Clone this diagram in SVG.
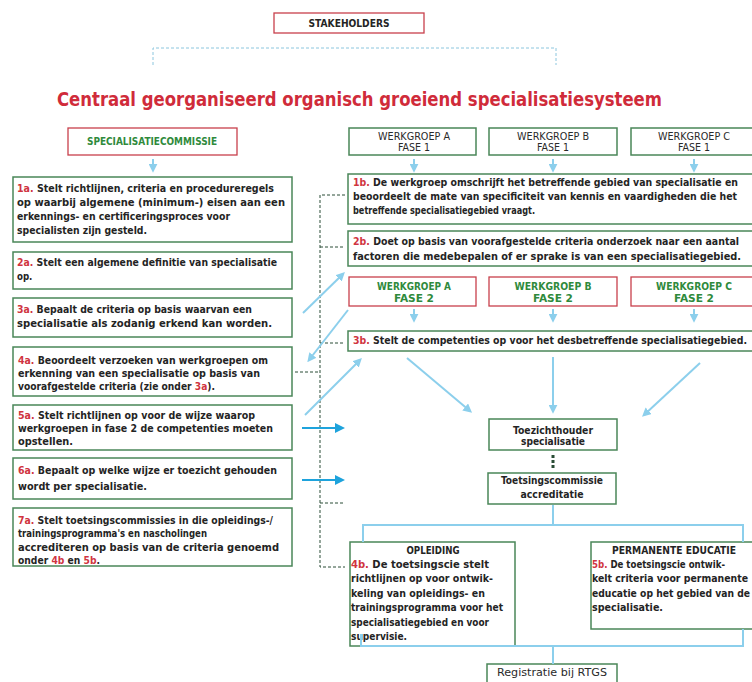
<svg xmlns="http://www.w3.org/2000/svg" width="752" height="682" viewBox="0 0 752 682">
<defs>
<style>
.bg{fill:#fff;stroke:#4a8658;stroke-width:1.5}
.br{fill:#fff;stroke:#c8404c;stroke-width:1.3}
.t{font-family:"DejaVu Sans Condensed","DejaVu Sans",sans-serif;font-weight:bold;font-size:9.6px;fill:#242424}
.n{font-family:"DejaVu Sans Condensed","DejaVu Sans",sans-serif;font-size:10px;fill:#2a2a2a}
.gt{fill:#2f8a3c}
.r{fill:#d0343f}
.title{font-family:"DejaVu Sans Condensed","DejaVu Sans",sans-serif;font-weight:bold;font-size:19px;fill:#d02b3a}
.lb{fill:none;stroke:#8ccfec;stroke-width:2}
.db{fill:none;stroke:#1ea3dc;stroke-width:2.2}
.dash{fill:none;stroke:#2a4d36;stroke-width:1;stroke-dasharray:3,2}
.brk{fill:none;stroke:#8cc6de;stroke-width:1;stroke-dasharray:3,2}
</style>
<marker id="la" markerUnits="userSpaceOnUse" viewBox="0 0 10 10" markerWidth="9" markerHeight="9" refX="7" refY="5" orient="auto"><path d="M0,0 L10,5 L0,10 z" fill="#8ccfec"/></marker>
<marker id="da" markerUnits="userSpaceOnUse" viewBox="0 0 10 10" markerWidth="10" markerHeight="11" refX="7" refY="5" orient="auto"><path d="M0,0 L10,5 L0,10 z" fill="#1ea3dc"/></marker>
</defs>
<rect width="752" height="682" fill="#fff"/>

<g id="stakeholders"><rect class="br" x="274" y="13" width="150" height="20"/><text class="t" x="349" y="27" text-anchor="middle" textLength="81" lengthAdjust="spacingAndGlyphs">STAKEHOLDERS</text></g>

<text class="title" x="57" y="106" textLength="605" lengthAdjust="spacingAndGlyphs">Centraal georganiseerd organisch groeiend specialisatiesysteem</text>

<g id="specialisatiecommissie"><rect class="br" x="68" y="128" width="169" height="27"/><text class="t gt" x="152" y="145" text-anchor="middle" textLength="130" lengthAdjust="spacingAndGlyphs">SPECIALISATIECOMMISSIE</text></g>

<g id="wg-a-f1"><rect class="bg" x="349" y="128" width="127" height="27"/><text class="n" x="414" y="139.5" text-anchor="middle" textLength="72" lengthAdjust="spacingAndGlyphs">WERKGROEP A</text><text class="n" x="414" y="151" text-anchor="middle" textLength="32" lengthAdjust="spacingAndGlyphs">FASE 1</text></g>
<g id="wg-b-f1"><rect class="bg" x="489" y="128" width="128" height="27"/><text class="n" x="553" y="139.5" text-anchor="middle" textLength="72" lengthAdjust="spacingAndGlyphs">WERKGROEP B</text><text class="n" x="553" y="151" text-anchor="middle" textLength="32" lengthAdjust="spacingAndGlyphs">FASE 1</text></g>
<g id="wg-c-f1"><rect class="bg" x="631" y="128" width="127" height="27"/><text class="n" x="694" y="139.5" text-anchor="middle" textLength="72" lengthAdjust="spacingAndGlyphs">WERKGROEP C</text><text class="n" x="694" y="151" text-anchor="middle" textLength="32" lengthAdjust="spacingAndGlyphs">FASE 1</text></g>

<g id="n1a"><rect class="bg" x="13" y="177" width="279" height="65"/>
<text class="t" x="17" y="192" textLength="257" lengthAdjust="spacingAndGlyphs"><tspan class="r">1a.</tspan> Stelt richtlijnen, criteria en procedureregels</text>
<text class="t" x="17" y="206" textLength="268" lengthAdjust="spacingAndGlyphs">op waarbij algemene (minimum-) eisen aan een</text>
<text class="t" x="17" y="220" textLength="213" lengthAdjust="spacingAndGlyphs">erkennings- en certificeringsproces voor</text>
<text class="t" x="17" y="234" textLength="130" lengthAdjust="spacingAndGlyphs">specialisten zijn gesteld.</text></g>

<g id="n2a"><rect class="bg" x="13" y="252" width="279" height="37"/>
<text class="t" x="17" y="266" textLength="260" lengthAdjust="spacingAndGlyphs"><tspan class="r">2a.</tspan> Stelt een algemene definitie van specialisatie</text>
<text class="t" x="17" y="280">op.</text></g>

<g id="n3a"><rect class="bg" x="13" y="298" width="279" height="39"/>
<text class="t" x="17" y="313" textLength="235" lengthAdjust="spacingAndGlyphs"><tspan class="r">3a.</tspan> Bepaalt de criteria op basis waarvan een</text>
<text class="t" x="17" y="327" textLength="255" lengthAdjust="spacingAndGlyphs">specialisatie als zodanig erkend kan worden.</text></g>

<g id="n4a"><rect class="bg" x="13" y="347" width="279" height="49"/>
<text class="t" x="18" y="364" textLength="250" lengthAdjust="spacingAndGlyphs"><tspan class="r">4a.</tspan> Beoordeelt verzoeken van werkgroepen om</text>
<text class="t" x="18" y="377" textLength="242" lengthAdjust="spacingAndGlyphs">erkenning van een specialisatie op basis van</text>
<text class="t" x="18" y="390" textLength="197" lengthAdjust="spacingAndGlyphs">voorafgestelde criteria (zie onder <tspan class="r">3a</tspan>).</text></g>

<g id="n5a"><rect class="bg" x="13" y="405" width="279" height="45"/>
<text class="t" x="18" y="419" textLength="237" lengthAdjust="spacingAndGlyphs"><tspan class="r">5a.</tspan> Stelt richtlijnen op voor de wijze waarop</text>
<text class="t" x="18" y="432" textLength="255" lengthAdjust="spacingAndGlyphs">werkgroepen in fase 2 de competenties moeten</text>
<text class="t" x="18" y="445" textLength="55" lengthAdjust="spacingAndGlyphs">opstellen.</text></g>

<g id="n6a"><rect class="bg" x="13" y="458" width="279" height="41"/>
<text class="t" x="18" y="474" textLength="259" lengthAdjust="spacingAndGlyphs"><tspan class="r">6a.</tspan> Bepaalt op welke wijze er toezicht gehouden</text>
<text class="t" x="18" y="490" textLength="129" lengthAdjust="spacingAndGlyphs">wordt per specialisatie.</text></g>

<g id="n7a"><rect class="bg" x="13" y="508" width="279" height="58"/>
<text class="t" x="18" y="524" textLength="255" lengthAdjust="spacingAndGlyphs"><tspan class="r">7a.</tspan> Stelt toetsingscommissies in die opleidings-/</text>
<text class="t" x="18" y="537" textLength="189" lengthAdjust="spacingAndGlyphs">trainingsprogramma's en nascholingen</text>
<text class="t" x="18" y="551" textLength="261" lengthAdjust="spacingAndGlyphs">accrediteren op basis van de criteria genoemd</text>
<text class="t" x="18" y="564" textLength="82" lengthAdjust="spacingAndGlyphs">onder <tspan class="r">4b</tspan> en <tspan class="r">5b</tspan>.</text></g>

<g id="n1b"><rect class="bg" x="348" y="174" width="410" height="50"/>
<text class="t" x="353" y="186" textLength="385" lengthAdjust="spacingAndGlyphs"><tspan class="r">1b.</tspan> De werkgroep omschrijft het betreffende gebied van specialisatie en</text>
<text class="t" x="353" y="200" textLength="384" lengthAdjust="spacingAndGlyphs">beoordeelt de mate van specificiteit van kennis en vaardigheden die het</text>
<text class="t" x="353" y="214" textLength="182" lengthAdjust="spacingAndGlyphs">betreffende specialisatiegebied vraagt.</text></g>

<g id="n2b"><rect class="bg" x="348" y="231" width="410" height="35"/>
<text class="t" x="353" y="245" textLength="386" lengthAdjust="spacingAndGlyphs"><tspan class="r">2b.</tspan> Doet op basis van voorafgestelde criteria onderzoek naar een aantal</text>
<text class="t" x="353" y="260" textLength="388" lengthAdjust="spacingAndGlyphs">factoren die medebepalen of er sprake is van een specialisatiegebied.</text></g>

<g id="wg-a-f2"><rect class="br" x="349" y="277" width="127" height="29"/><text class="t gt" x="414" y="290" text-anchor="middle" textLength="74" lengthAdjust="spacingAndGlyphs">WERKGROEP A</text><text class="t gt" x="414" y="302" text-anchor="middle" textLength="40" lengthAdjust="spacingAndGlyphs">FASE 2</text></g>
<g id="wg-b-f2"><rect class="br" x="489" y="277" width="128" height="29"/><text class="t gt" x="553" y="290" text-anchor="middle" textLength="77" lengthAdjust="spacingAndGlyphs">WERKGROEP B</text><text class="t gt" x="553" y="302" text-anchor="middle" textLength="40" lengthAdjust="spacingAndGlyphs">FASE 2</text></g>
<g id="wg-c-f2"><rect class="br" x="631" y="277" width="127" height="29"/><text class="t gt" x="694" y="290" text-anchor="middle" textLength="76" lengthAdjust="spacingAndGlyphs">WERKGROEP C</text><text class="t gt" x="694" y="302" text-anchor="middle" textLength="40" lengthAdjust="spacingAndGlyphs">FASE 2</text></g>

<g id="n3b"><rect class="bg" x="348" y="331" width="410" height="20"/>
<text class="t" x="353" y="344" textLength="394" lengthAdjust="spacingAndGlyphs"><tspan class="r">3b.</tspan> Stelt de competenties op voor het desbetreffende specialisatiegebied.</text></g>

<g id="toezichthouder"><rect class="bg" x="489" y="419" width="128" height="31"/>
<text class="t" x="553" y="434" text-anchor="middle" textLength="80" lengthAdjust="spacingAndGlyphs">Toezichthouder</text>
<text class="t" x="553" y="445" text-anchor="middle" textLength="64" lengthAdjust="spacingAndGlyphs">specialisatie</text></g>

<g id="toetsingscommissie"><rect class="bg" x="488" y="473" width="128" height="31"/>
<text class="t" x="552" y="484" text-anchor="middle" textLength="102" lengthAdjust="spacingAndGlyphs">Toetsingscommissie</text>
<text class="t" x="552" y="498" text-anchor="middle" textLength="63" lengthAdjust="spacingAndGlyphs">accreditatie</text></g>

<g id="opleiding"><rect class="bg" x="350" y="542" width="165" height="104"/>
<text class="t" x="433" y="554" text-anchor="middle" textLength="53" lengthAdjust="spacingAndGlyphs">OPLEIDING</text>
<text class="t" x="351" y="568" textLength="138" lengthAdjust="spacingAndGlyphs"><tspan class="r">4b.</tspan> De toetsingscie stelt</text>
<text class="t" x="351" y="582" textLength="142" lengthAdjust="spacingAndGlyphs">richtlijnen op voor ontwik-</text>
<text class="t" x="351" y="597" textLength="134" lengthAdjust="spacingAndGlyphs">keling van opleidings- en</text>
<text class="t" x="351" y="611" textLength="152" lengthAdjust="spacingAndGlyphs">trainingsprogramma voor het</text>
<text class="t" x="351" y="626" textLength="138" lengthAdjust="spacingAndGlyphs">specialisatiegebied en voor</text>
<text class="t" x="351" y="640" textLength="56" lengthAdjust="spacingAndGlyphs">supervisie.</text></g>

<g id="permanente-educatie"><rect class="bg" x="591" y="542" width="170" height="87"/>
<text class="t" x="674" y="554" text-anchor="middle" textLength="124" lengthAdjust="spacingAndGlyphs">PERMANENTE EDUCATIE</text>
<text class="t" x="592" y="568" textLength="133" lengthAdjust="spacingAndGlyphs"><tspan class="r">5b.</tspan> De toetsingscie ontwik-</text>
<text class="t" x="592" y="582" textLength="156" lengthAdjust="spacingAndGlyphs">kelt criteria voor permanente</text>
<text class="t" x="592" y="597" textLength="158" lengthAdjust="spacingAndGlyphs">educatie op het gebied van de</text>
<text class="t" x="592" y="611" textLength="71" lengthAdjust="spacingAndGlyphs">specialisatie.</text></g>

<g id="rtgs"><rect class="bg" x="487" y="664" width="130" height="24"/>
<text class="n" x="552" y="676" text-anchor="middle" textLength="110" lengthAdjust="spacingAndGlyphs">Registratie bij RTGS</text></g>

<g id="connectors">
<path class="brk" d="M153,65 V48 H556 V65"/>
<line class="lb" x1="153" y1="159" x2="153" y2="170" marker-end="url(#la)"/>
<line class="lb" x1="414" y1="159" x2="414" y2="170" marker-end="url(#la)"/>
<line class="lb" x1="553" y1="159" x2="553" y2="170" marker-end="url(#la)"/>
<line class="lb" x1="694" y1="159" x2="694" y2="170" marker-end="url(#la)"/>
<line class="lb" x1="414" y1="309" x2="414" y2="320" marker-end="url(#la)"/>
<line class="lb" x1="553" y1="309" x2="553" y2="320" marker-end="url(#la)"/>
<line class="lb" x1="694" y1="309" x2="694" y2="320" marker-end="url(#la)"/>
<path class="dash" d="M345,195 H320 V567 H345 M320,247 H345 M320,343 H345 M295,372 H320 M320,503 H345"/>
<line class="lb" x1="303" y1="313" x2="343" y2="274" marker-end="url(#la)"/>
<line class="lb" x1="348" y1="310" x2="309" y2="360" marker-end="url(#la)"/>
<line class="lb" x1="305" y1="415" x2="360" y2="360" marker-end="url(#la)"/>
<line class="db" x1="302" y1="428" x2="342" y2="428" marker-end="url(#da)"/>
<line class="db" x1="302" y1="480" x2="342" y2="480" marker-end="url(#da)"/>
<line class="lb" x1="407" y1="358" x2="470" y2="411" marker-end="url(#la)"/>
<line class="lb" x1="553" y1="357" x2="553" y2="411" marker-end="url(#la)"/>
<line class="lb" x1="700" y1="363" x2="644" y2="415" marker-end="url(#la)"/>
<line x1="553" y1="455" x2="553" y2="469" stroke="#2a4d36" stroke-width="3" stroke-dasharray="3,2"/>
<path class="lb" d="M553,505 V525 M363,542 V525 H743 V542"/>
<path class="lb" d="M361,634 V646 H743 V629 M553,646 V664"/>
</g>
</svg>
